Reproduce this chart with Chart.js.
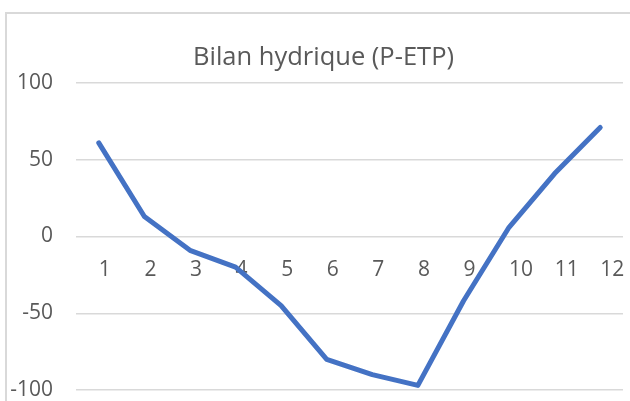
<!DOCTYPE html>
<html>
<head>
<meta charset="utf-8">
<script src="https://cdn.jsdelivr.net/npm/chart.js@4"></script>
<style>
  html, body { margin: 0; padding: 0; background: #ffffff; overflow: hidden; }
  #wrap { position: relative; width: 630px; height: 401px; }
  #frame { position: absolute; left: 5px; top: 12px; width: 700px; height: 500px;
           border-left: 2px solid #d9d9d9; border-top: 2px solid #d9d9d9; box-sizing: border-box; }
  canvas { position: absolute; left: 0; top: 0; }
</style>
</head>
<body>
<div id="wrap">
  <div id="frame"></div>
  <canvas id="c" width="630" height="401"></canvas>
</div>
<script>
const titleText = "Bilan hydrique (P-ETP)";
const months = ["1", "2", "3", "4", "5", "6", "7", "8", "9", "10", "11", "12"];
const bilan = [61, 13, -9, -20, -45, -80, -90, -97, -42, 6, 41, 71];
const yTicks = [-100, -50, 0, 50, 100];

const textColor = "#595959";
const gridColor = "#d9d9d9";

const shiftTitle = {
  id: "shiftTitle",
  afterLayout(chart) {
    if (chart.titleBlock) { chart.titleBlock.left = 24; }
  }
};

new Chart(document.getElementById("c"), {
  type: "line",
  data: {
    labels: months,
    datasets: [{
      label: titleText,
      data: bilan,
      borderColor: "#4472C4",
      backgroundColor: "#4472C4",
      borderWidth: 5,
      borderCapStyle: "round",
      borderJoinStyle: "round",
      pointRadius: 0,
      tension: 0
    }]
  },
  plugins: [shiftTitle],
  options: {
    responsive: false,
    animation: false,
    layout: { padding: { left: 0, right: 7, top: 0, bottom: 11 } },
    plugins: {
      legend: { display: false },
      tooltip: { enabled: false },
      title: {
        display: true,
        text: titleText,
        color: textColor,
        font: { family: "'Open Sans'", size: 25.5, weight: "normal", lineHeight: 1.2 },
        padding: { top: 42, bottom: 10.4 }
      }
    },
    scales: {
      x: {
        position: { y: 0 },
        offset: true,
        grid: { display: false, drawTicks: false },
        border: { display: false },
        afterFit: (s) => { s.height = 0; s.paddingLeft = 0; s.paddingRight = 0; s.paddingTop = 0; s.paddingBottom = 0; },
        ticks: {
          color: textColor,
          font: { family: "'Open Sans'", size: 21, lineHeight: 1 },
          padding: 23,
          align: "start",
          maxRotation: 0,
          autoSkip: false
        }
      },
      y: {
        min: -100,
        max: 100,
        afterBuildTicks: (s) => { s.ticks = yTicks.map(v => ({ value: v })); },
        afterFit: (s) => { s.width = 76; s.paddingTop = 0; s.paddingBottom = 0; },
        grid: { color: gridColor, lineWidth: 1.5, drawTicks: false },
        border: { display: false },
        ticks: {
          color: textColor,
          font: { family: "'Open Sans'", size: 21, lineHeight: 1 },
          padding: 23
        }
      }
    }
  }
});
</script>
</body>
</html>
